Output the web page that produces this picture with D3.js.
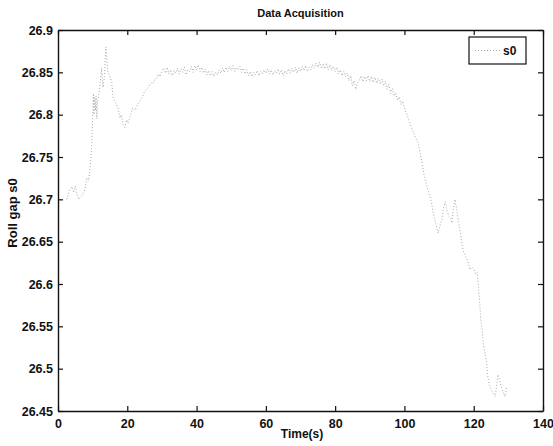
<!DOCTYPE html>
<html><head><meta charset="utf-8">
<script src="https://cdn.jsdelivr.net/npm/d3@7"></script>
<style>body{margin:0;background:#fff}svg{display:block}text{font-family:"Liberation Sans",Arial,sans-serif;font-weight:bold;fill:#111}</style>
</head><body><svg id="c" width="553" height="446"></svg>
<script>
const title = "Data Acquisition";
const xLabel = "Time(s)";
const yLabel = "Roll gap s0";
const seriesName = "s0";
const xTicks = [0,20,40,60,80,100,120,140];
const yTicks = [26.45,26.5,26.55,26.6,26.65,26.7,26.75,26.8,26.85,26.9];

// early segment (irregular sampling)
const tEarly = [2.5,3.5,4.0,4.5,5.0,5.5,6.0,7.0,7.8,8.3,8.8,9.2,9.7,10.0,10.2,10.4,10.6,10.8,11.0,11.2,11.4,12.0,12.6,13.0,13.4,13.8,14.0,14.4,15.0,15.5,15.9,16.5,17.3,17.9,18.3,18.8,19.3,19.8,20.2,21.0,21.5,22.2,23.0,23.7,24.5,25.0,25.6,26.3,27.0,27.4,28.0,28.5,29.0,29.5];
const vEarly = [26.700,26.712,26.715,26.708,26.716,26.705,26.700,26.705,26.712,26.725,26.722,26.735,26.760,26.795,26.825,26.800,26.820,26.805,26.822,26.795,26.815,26.830,26.855,26.832,26.845,26.880,26.872,26.850,26.845,26.838,26.820,26.815,26.808,26.796,26.800,26.788,26.785,26.794,26.790,26.800,26.808,26.805,26.812,26.817,26.822,26.828,26.830,26.834,26.838,26.837,26.842,26.843,26.848,26.845];

// plateau, every 0.5 s from 30 to 102.5
const tPlateauStart = 30, tPlateauStep = 0.5;
const vPlateau = [
26.852,26.855,26.849,26.856,26.848,26.853,26.846,26.852,26.849,26.855,
26.848,26.854,26.850,26.856,26.847,26.853,26.851,26.857,26.850,26.858,
26.853,26.859,26.851,26.856,26.849,26.854,26.847,26.852,26.846,26.851,
26.845,26.850,26.847,26.853,26.849,26.855,26.850,26.856,26.851,26.857,
26.852,26.858,26.851,26.856,26.853,26.857,26.850,26.855,26.848,26.853,
26.846,26.851,26.845,26.850,26.847,26.852,26.846,26.851,26.848,26.853,
26.849,26.854,26.848,26.853,26.847,26.852,26.849,26.854,26.848,26.853,
26.846,26.852,26.848,26.854,26.849,26.855,26.850,26.856,26.849,26.855,
26.851,26.857,26.852,26.858,26.851,26.856,26.853,26.859,26.855,26.861,
26.856,26.862,26.855,26.860,26.854,26.861,26.853,26.859,26.852,26.857,
26.851,26.856,26.848,26.853,26.846,26.851,26.845,26.849,26.840,26.846,
26.834,26.840,26.830,26.838,26.841,26.846,26.839,26.845,26.840,26.846,
26.839,26.845,26.838,26.844,26.837,26.843,26.836,26.842,26.834,26.840,
26.830,26.836,26.825,26.831,26.822,26.826,26.817,26.821,26.812,26.816,
26.808,26.802,26.797,26.791,26.785,26.780];

// fall-off segment
const tLate = [103.0,103.5,104.0,104.5,105.0,105.4,105.8,106.5,107.0,107.4,108.0,108.3,109.0,109.7,110.2,110.8,111.3,111.8,112.3,112.8,113.3,113.7,114.1,114.6,115.0,115.5,116.0,116.5,116.9,117.5,118.0,118.4,118.9,119.5,120.0,120.5,121.0,121.8,122.0,122.4,122.7,123.2,123.6,124.1,124.6,125.2,125.7,126.2,126.6,127.0,127.5,128.0,128.5,129.0,129.5];
const vLate = [26.775,26.770,26.767,26.755,26.745,26.735,26.726,26.715,26.708,26.703,26.692,26.684,26.672,26.660,26.668,26.676,26.690,26.697,26.687,26.680,26.678,26.672,26.688,26.700,26.690,26.676,26.665,26.650,26.640,26.634,26.630,26.626,26.617,26.620,26.618,26.612,26.614,26.575,26.558,26.548,26.532,26.520,26.510,26.490,26.480,26.474,26.470,26.467,26.480,26.493,26.486,26.478,26.472,26.467,26.478];

const data = [];
tEarly.forEach((t,i)=>data.push([t,vEarly[i]]));
vPlateau.forEach((v,i)=>data.push([tPlateauStart+i*tPlateauStep,v]));
tLate.forEach((t,i)=>data.push([t,vLate[i]]));

const L=58, R=543, T=30, B=411;
const svg = d3.select("#c");
const x = d3.scaleLinear().domain([0,140]).range([L,R]);
const y = d3.scaleLinear().domain([26.45,26.9]).range([B,T]);

// series
svg.append("path").datum(data)
  .attr("d", d3.line().x(d=>x(d[0])).y(d=>y(d[1])))
  .attr("fill","none").attr("stroke","#a8a8a8").attr("stroke-width",1)
  .attr("stroke-dasharray","1,2");

// axes (ticks inward)
const fmt = d => String(+d.toFixed(2));
const gB = svg.append("g").attr("transform",`translate(0,${B})`)
  .call(d3.axisBottom(x).tickValues(xTicks).tickSizeInner(-5).tickSizeOuter(0).tickPadding(8).tickFormat(fmt));
const gT = svg.append("g").attr("transform",`translate(0,${T})`)
  .call(d3.axisTop(x).tickValues(xTicks).tickSizeInner(-5).tickSizeOuter(0).tickFormat(""));
const gL = svg.append("g").attr("transform",`translate(${L},0)`)
  .call(d3.axisLeft(y).tickValues(yTicks).tickSizeInner(-5).tickSizeOuter(0).tickPadding(5).tickFormat(fmt));
const gR = svg.append("g").attr("transform",`translate(${R},0)`)
  .call(d3.axisRight(y).tickValues(yTicks).tickSizeInner(-5).tickSizeOuter(0).tickFormat(""));
[gB,gT,gL,gR].forEach(g=>{
  g.select(".domain").attr("stroke","#111").attr("stroke-width",1.4);
  g.selectAll(".tick line").attr("stroke","#111").attr("stroke-width",1.2);
  g.selectAll("text").attr("font-size",12.5).attr("font-family","'Liberation Sans',Arial,sans-serif").attr("font-weight","bold").attr("fill","#111");
});

svg.append("text").attr("x",(L+R)/2).attr("y",17).attr("text-anchor","middle").attr("font-size",11).text(title);
svg.append("text").attr("x",302).attr("y",438).attr("text-anchor","middle").attr("font-size",12).text(xLabel);
svg.append("text").attr("transform",`translate(17,213) rotate(-90)`).attr("text-anchor","middle").attr("font-size",13).text(yLabel);

// legend
const lg = svg.append("g");
lg.append("rect").attr("x",469).attr("y",37).attr("width",57).attr("height",27).attr("fill","#fff").attr("stroke","#111").attr("stroke-width",1.2);
lg.append("line").attr("x1",475).attr("x2",500).attr("y1",50.5).attr("y2",50.5).attr("stroke","#a8a8a8").attr("stroke-dasharray","1,2");
lg.append("text").attr("x",503).attr("y",55).attr("font-size",12).text(seriesName);
</script></body></html>
